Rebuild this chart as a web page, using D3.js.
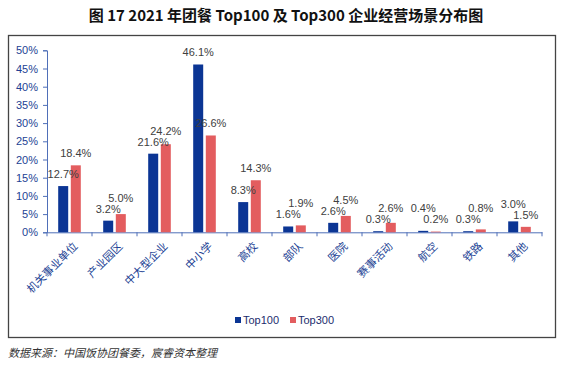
<!DOCTYPE html>
<html>
<head>
<meta charset="utf-8">
<script src="https://cdn.jsdelivr.net/npm/d3@7"></script>
<style>
  body { margin: 0; background: #fff; }
  svg { display: block; }
</style>
</head>
<body>
<svg id="chart" width="565" height="365"></svg>
<script>
// data
const categories = ["机关事业单位", "产业园区", "中大型企业", "中小学", "高校", "部队", "医院", "赛事活动", "航空", "铁路", "其他"];
const top100 = [12.7, 3.2, 21.6, 46.1, 8.3, 1.6, 2.6, 0.3, 0.4, 0.3, 3.0];
const top300 = [18.4, 5.0, 24.2, 26.6, 14.3, 1.9, 4.5, 2.6, 0.2, 0.8, 1.5];
const yTicks = [0, 5, 10, 15, 20, 25, 30, 35, 40, 45, 50];
const seriesNames = ["Top100", "Top300"];

const blue = "#0b3594";
const red = "#e35d5f";
const axisColor = "#4f6fb8";
const tickText = "#223f94";
const latin = "Arial, 'Liberation Sans', sans-serif";
const cjk = "'Noto Sans CJK SC', sans-serif";

const svg = d3.select("#chart");

// title
svg.append("text")
  .attr("x", 286)
  .attr("y", 21)
  .attr("text-anchor", "middle")
  .attr("font-family", cjk)
  .attr("font-weight", "bold")
  .attr("font-size", 15)
  .attr("fill", "#111")
  .text("图 17 2021 年团餐 Top100 及 Top300 企业经营场景分布图");

// frame
svg.append("rect")
  .attr("x", 8.5)
  .attr("y", 35.5)
  .attr("width", 547)
  .attr("height", 302)
  .attr("fill", "none")
  .attr("stroke", "#444")
  .attr("stroke-width", 1.3);

const x0 = d3.scaleBand()
  .domain(categories)
  .range([47, 542])
  .paddingInner(0)
  .paddingOuter(0);

const y = d3.scaleLinear().domain([0, 50]).range([232.3, 50.3]);

const barW = 10;
const gap = 2.6;

// y axis
const yAxis = svg.append("g")
  .attr("transform", "translate(47,0)")
  .call(d3.axisLeft(y).tickValues(yTicks).tickSize(4).tickFormat(d => d + "%"));
yAxis.select(".domain").attr("stroke", axisColor);
yAxis.selectAll(".tick line").attr("stroke", axisColor);
yAxis.selectAll(".tick text")
  .attr("font-family", latin)
  .attr("font-size", 11)
  .attr("fill", tickText)
  .attr("x", -9);

// x axis
const xAxis = svg.append("g")
  .attr("transform", "translate(0," + y(0) + ")")
  .call(d3.axisBottom(x0).tickSize(0).tickFormat(""));
xAxis.select(".domain").attr("stroke", axisColor);
xAxis.selectAll(".tick").remove();

// category separators
const edges = categories.map(c => x0(c)).concat([x0.range()[1]]);
svg.selectAll(".xtick")
  .data(edges)
  .enter()
  .append("line")
  .attr("x1", d => d)
  .attr("x2", d => d)
  .attr("y1", y(0))
  .attr("y2", y(0) + 4)
  .attr("stroke", axisColor);

// category labels
svg.selectAll(".xlabel")
  .data(categories)
  .enter()
  .append("text")
  .attr("transform", d => "translate(" + (x0(d) + x0.bandwidth() / 2 + 6) + "," + (y(0) + 12) + ") rotate(-45)")
  .attr("text-anchor", "end")
  .attr("dy", "0.35em")
  .attr("font-family", cjk)
  .attr("font-size", 11)
  .attr("fill", tickText)
  .text(d => d);

const cx = c => x0(c) + x0.bandwidth() / 2;

// bars
svg.selectAll(".bar100")
  .data(categories)
  .enter()
  .append("rect")
  .attr("x", d => cx(d) - gap / 2 - barW)
  .attr("y", (d, i) => y(top100[i]))
  .attr("width", barW)
  .attr("height", (d, i) => y(0) - y(top100[i]))
  .attr("fill", blue);

svg.selectAll(".bar300")
  .data(categories)
  .enter()
  .append("rect")
  .attr("x", d => cx(d) + gap / 2)
  .attr("y", (d, i) => y(top300[i]))
  .attr("width", barW)
  .attr("height", (d, i) => y(0) - y(top300[i]))
  .attr("fill", red);

// value labels, red ones lifted when they collide with blue ones
const labelOff = 12;
const labelPos = categories.map((c, i) => {
  let yb = y(top100[i]) - labelOff;
  let yr = y(top300[i]) - labelOff;
  if (Math.abs(yr - yb) < 10) {
    if (top300[i] >= top100[i]) yr = yb - 11;
    else yb = yr - 11;
  }
  return { c: c, yb: yb, yr: yr };
});

svg.selectAll(".lab100")
  .data(labelPos)
  .enter()
  .append("text")
  .attr("x", d => cx(d.c) - gap / 2 - barW / 2)
  .attr("y", d => d.yb)
  .attr("dy", "0.35em")
  .attr("text-anchor", "middle")
  .attr("font-family", latin)
  .attr("font-size", 11)
  .attr("fill", "#404040")
  .text((d, i) => top100[i].toFixed(1) + "%");

svg.selectAll(".lab300")
  .data(labelPos)
  .enter()
  .append("text")
  .attr("x", d => cx(d.c) + gap / 2 + barW / 2)
  .attr("y", d => d.yr)
  .attr("dy", "0.35em")
  .attr("text-anchor", "middle")
  .attr("font-family", latin)
  .attr("font-size", 11)
  .attr("fill", "#404040")
  .text((d, i) => top300[i].toFixed(1) + "%");

// legend
const legend = svg.append("g").attr("transform", "translate(235,320)");
const legX = [0, 55];
const legColors = [blue, red];
const items = legend.selectAll(".leg")
  .data(seriesNames)
  .enter()
  .append("g")
  .attr("transform", (d, i) => "translate(" + legX[i] + ",0)");
items.append("rect")
  .attr("x", 0)
  .attr("y", -3)
  .attr("width", 6)
  .attr("height", 6)
  .attr("fill", (d, i) => legColors[i]);
items.append("text")
  .attr("x", 8)
  .attr("y", 0)
  .attr("dy", "0.35em")
  .attr("font-family", latin)
  .attr("font-size", 11)
  .attr("fill", "#1c2d6e")
  .text(d => d);

// source note
svg.append("text")
  .attr("x", 8)
  .attr("y", 357)
  .attr("font-family", cjk)
  .attr("font-style", "italic")
  .attr("font-size", 11)
  .attr("fill", "#333")
  .text("数据来源：中国饭协团餐委，宸睿资本整理");
</script>
</body>
</html>
